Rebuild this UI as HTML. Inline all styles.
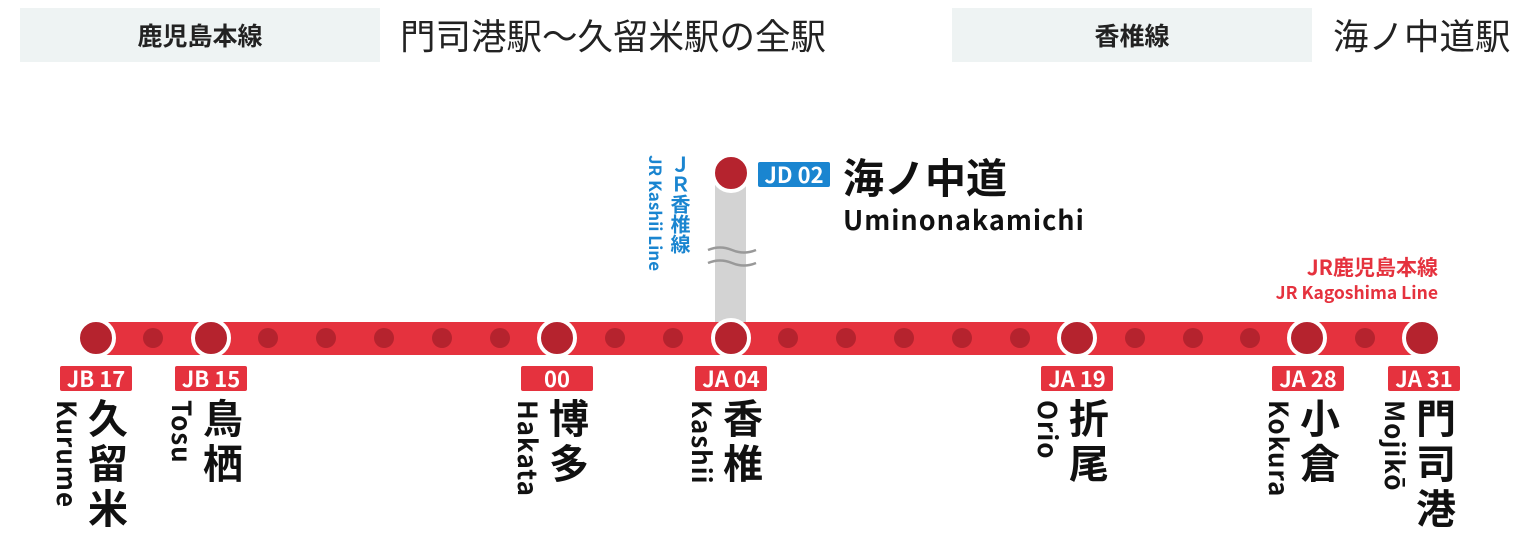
<!DOCTYPE html>
<html><head><meta charset="utf-8"><style>
body{margin:0;width:1520px;height:558px;background:#fff;position:relative;overflow:hidden;font-family:"Liberation Sans","Noto Sans CJK JP",sans-serif}
.hb{position:absolute;top:8px;height:54px;background:#eef3f3;font-weight:bold;font-size:25px;display:flex;align-items:center;justify-content:center;color:#222;font-family:"Noto Sans CJK JP",sans-serif}
.ht{position:absolute;top:10px;font-size:35.5px;color:#222;font-family:"Noto Sans CJK JP",sans-serif;line-height:50px}
.cd{position:absolute;top:366px;width:72px;height:25px;background:#e5323e;color:#fff;font-weight:bold;font-size:22px;line-height:25px;text-align:center;border-radius:2px;font-family:"Noto Sans CJK JP",sans-serif}
.jp{position:absolute;top:398px;writing-mode:vertical-rl;font-size:40px;font-weight:bold;line-height:40px;letter-spacing:5px;font-family:"Noto Sans CJK JP",sans-serif;color:#111}
.ro{position:absolute;top:400px;writing-mode:vertical-rl;font-size:26px;font-weight:bold;line-height:24px;font-family:"Noto Sans CJK JP",sans-serif;color:#111;letter-spacing:1px}
</style></head><body>
<div class="hb" style="left:20px;width:360px">鹿児島本線</div>
<div class="ht" style="left:400px">門司港駅〜久留米駅の全駅</div>
<div class="hb" style="left:952px;width:360px">香椎線</div>
<div class="ht" style="left:1333px">海ノ中道駅</div>
<svg width="1520" height="558" style="position:absolute;left:0;top:0">
<rect x="715" y="175" width="31" height="164" fill="#d3d3d3"/>
<path d="M708 250 q12 -5 24 0 t24 0 M708 263 q12 -5 24 0 t24 0" stroke="#999" stroke-width="2.5" fill="none"/>
<rect x="100" y="322" width="1330" height="33" fill="#e5323e"/>
<g fill="#b5232e">
<circle cx="153" cy="338" r="10"/><circle cx="268" cy="338" r="10"/><circle cx="326" cy="338" r="10"/><circle cx="384" cy="338" r="10"/><circle cx="442" cy="338" r="10"/><circle cx="500" cy="338" r="10"/><circle cx="615" cy="338" r="10"/><circle cx="673" cy="338" r="10"/><circle cx="788" cy="338" r="10"/><circle cx="846" cy="338" r="10"/><circle cx="904" cy="338" r="10"/><circle cx="962" cy="338" r="10"/><circle cx="1020" cy="338" r="10"/><circle cx="1135" cy="338" r="10"/><circle cx="1193" cy="338" r="10"/><circle cx="1250" cy="338" r="10"/><circle cx="1365" cy="338" r="10"/>
</g>
<g fill="#b5232e" stroke="#fff" stroke-width="4">
<circle cx="96" cy="338" r="18"/><circle cx="211" cy="338" r="18"/><circle cx="557" cy="338" r="18"/><circle cx="731" cy="338" r="18"/><circle cx="1077" cy="338" r="18"/><circle cx="1307" cy="338" r="18"/><circle cx="1422" cy="338" r="18"/><circle cx="731" cy="173" r="18"/>
</g>
</svg>
<div style="position:absolute;left:758px;top:162px;width:72px;height:25px;background:#1a85d0;color:#fff;font-weight:bold;font-size:22px;line-height:25px;text-align:center;border-radius:2px;font-family:'Noto Sans CJK JP',sans-serif">JD 02</div>
<div style="position:absolute;left:843px;top:150px;font-size:41px;font-weight:bold;line-height:50px;font-family:'Noto Sans CJK JP',sans-serif;color:#111">海ノ中道</div>
<div style="position:absolute;left:843px;top:202px;font-size:27px;font-weight:bold;line-height:34px;font-family:'Noto Sans CJK JP',sans-serif;color:#111;letter-spacing:1px">Uminonakamichi</div>
<div style="position:absolute;left:669px;top:154px;writing-mode:vertical-rl;font-size:20px;font-weight:bold;line-height:22px;color:#1a85d0;font-family:'Noto Sans CJK JP',sans-serif">ＪＲ香椎線</div>
<div style="position:absolute;left:647px;top:155px;writing-mode:vertical-rl;font-size:17px;font-weight:bold;line-height:19px;color:#1a85d0;font-family:'Noto Sans CJK JP',sans-serif">JR Kashii Line</div>
<div style="position:absolute;right:82px;top:254px;font-size:21px;font-weight:bold;color:#e5323e;font-family:'Noto Sans CJK JP',sans-serif;line-height:26px">JR鹿児島本線</div>
<div style="position:absolute;right:82px;top:282px;font-size:17.5px;font-weight:bold;color:#e5323e;font-family:'Noto Sans CJK JP',sans-serif;line-height:22px">JR Kagoshima Line</div>

<div class="cd" style="left:60px">JB 17</div><div class="ro" style="left:55px">Kurume</div><div class="jp" style="left:88px">久留米</div>
<div class="cd" style="left:175px">JB 15</div><div class="ro" style="left:170px">Tosu</div><div class="jp" style="left:203px">鳥栖</div>
<div class="cd" style="left:521px">00</div><div class="ro" style="left:516px">Hakata</div><div class="jp" style="left:549px">博多</div>
<div class="cd" style="left:695px">JA 04</div><div class="ro" style="left:690px">Kashii</div><div class="jp" style="left:723px">香椎</div>
<div class="cd" style="left:1041px">JA 19</div><div class="ro" style="left:1036px">Orio</div><div class="jp" style="left:1069px">折尾</div>
<div class="cd" style="left:1272px">JA 28</div><div class="ro" style="left:1267px">Kokura</div><div class="jp" style="left:1300px">小倉</div>
<div class="cd" style="left:1388px">JA 31</div><div class="ro" style="left:1383px">Mojikō</div><div class="jp" style="left:1416px">門司港</div>
</body></html>
